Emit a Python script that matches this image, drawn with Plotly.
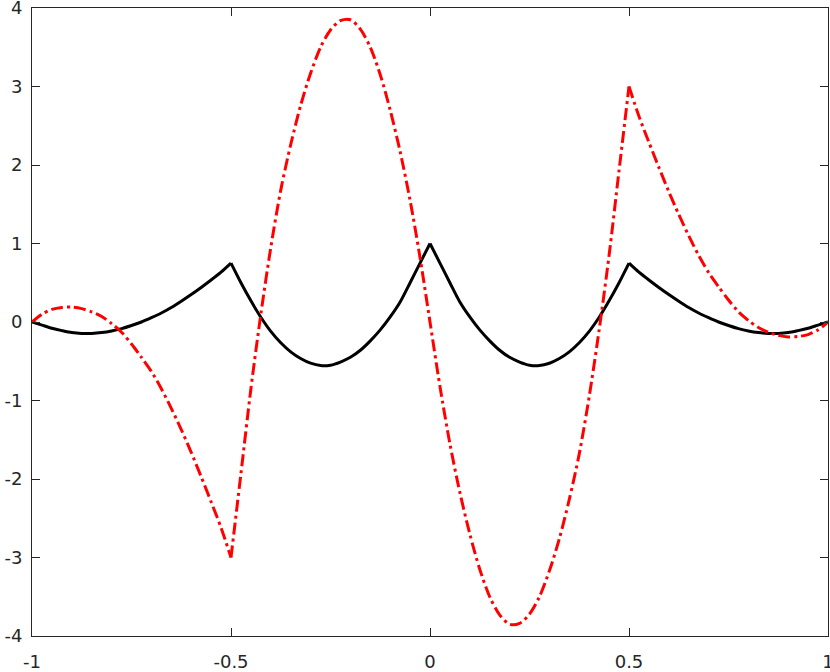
import plotly.graph_objects as go

# sample positions along x
x = [-1.0, -0.975, -0.95, -0.925, -0.9, -0.875, -0.85, -0.825, -0.8, -0.775,
     -0.75, -0.725, -0.7, -0.675, -0.65, -0.625, -0.6, -0.575, -0.55, -0.525,
     -0.5, -0.475, -0.45, -0.425, -0.4, -0.375, -0.35, -0.325, -0.3, -0.275,
     -0.25, -0.225, -0.2, -0.175, -0.15, -0.125, -0.1, -0.075, -0.05, -0.025,
     0.0, 0.025, 0.05, 0.075, 0.1, 0.125, 0.15, 0.175, 0.2, 0.225,
     0.25, 0.275, 0.3, 0.325, 0.35, 0.375, 0.4, 0.425, 0.45, 0.475,
     0.5, 0.525, 0.55, 0.575, 0.6, 0.625, 0.65, 0.675, 0.7, 0.725,
     0.75, 0.775, 0.8, 0.825, 0.85, 0.875, 0.9, 0.925, 0.95, 0.975, 1.0]

# solid black curve
black = [0.0, -0.04, -0.08, -0.11, -0.135, -0.145, -0.145, -0.135, -0.115, -0.085,
         -0.045, 0.0, 0.055, 0.115, 0.185, 0.265, 0.35, 0.44, 0.535, 0.635,
         0.75, 0.50, 0.27, 0.06, -0.12, -0.265, -0.38, -0.465, -0.525, -0.555,
         -0.55, -0.51, -0.45, -0.36, -0.24, -0.10, 0.065, 0.255, 0.50, 0.75,
         1.0, 0.75, 0.50, 0.255, 0.065, -0.10, -0.24, -0.36, -0.45, -0.51,
         -0.55, -0.555, -0.525, -0.465, -0.38, -0.265, -0.12, 0.06, 0.27, 0.50,
         0.75, 0.635, 0.535, 0.44, 0.35, 0.265, 0.185, 0.115, 0.055, 0.0,
         -0.045, -0.085, -0.115, -0.135, -0.145, -0.145, -0.135, -0.11, -0.08, -0.04, 0.0]

# red dash-dot curve
red = [0.0, 0.10, 0.16, 0.185, 0.19, 0.17, 0.13, 0.07, -0.02, -0.13,
       -0.28, -0.45, -0.63, -0.85, -1.10, -1.37, -1.66, -1.97, -2.29, -2.62,
       -3.0, -1.93, -0.85, 0.10, 0.95, 1.68, 2.26, 2.76, 3.17, 3.50,
       3.72, 3.84, 3.85, 3.73, 3.50, 3.15, 2.70, 2.17, 1.55, 0.82,
       0.0, -0.82, -1.55, -2.17, -2.70, -3.15, -3.50, -3.73, -3.85, -3.84,
       -3.72, -3.50, -3.17, -2.76, -2.26, -1.68, -0.95, -0.10, 0.85, 1.93,
       3.0, 2.62, 2.29, 1.97, 1.66, 1.37, 1.10, 0.85, 0.63, 0.45,
       0.28, 0.13, 0.02, -0.07, -0.13, -0.17, -0.19, -0.185, -0.16, -0.10, 0.0]

# indices of the corners (kinks) in each curve
black_kinks = [0, 20, 40, 60, 80]
red_kinks = [0, 20, 60, 80]

xticks = [-1, -0.5, 0, 0.5, 1]
xlabels = ["-1", "-0.5", "0", "0.5", "1"]
yticks = [-4, -3, -2, -1, 0, 1, 2, 3, 4]
ylabels = ["-4", "-3", "-2", "-1", "0", "1", "2", "3", "4"]


def add_curve(fig, ys, kinks, line):
    # smooth pieces between the corners, so the corners stay sharp
    for a, b in zip(kinks[:-1], kinks[1:]):
        fig.add_trace(go.Scatter(x=x[a:b + 1], y=ys[a:b + 1], mode="lines",
                                 line=dict(shape="spline", smoothing=0.8, **line),
                                 hoverinfo="skip"))


fig = go.Figure()
add_curve(fig, black, black_kinks, dict(color="black", width=3))
add_curve(fig, red, red_kinks, dict(color="#ff0000", width=3, dash="12px,4px,3px,4px"))

axis_style = dict(showline=True, linecolor="#262626", linewidth=1, mirror="ticks",
                  ticks="inside", ticklen=8, tickcolor="#262626", showgrid=False,
                  zeroline=False, automargin=False, ticklabeloverflow="allow",
                  tickfont=dict(size=18, color="#262626"))

fig.update_xaxes(range=[-1, 1], tickvals=xticks, ticktext=xlabels,
                 ticklabelstandoff=9, **axis_style)
fig.update_yaxes(range=[-4, 4], tickvals=yticks, ticktext=ylabels,
                 ticklabelstandoff=5, **axis_style)

fig.update_layout(
    width=830, height=672,
    margin=dict(l=32, r=2, t=8, b=36),
    plot_bgcolor="white", paper_bgcolor="white",
    showlegend=False,
    font=dict(family="DejaVu Sans, Arial, sans-serif"),
)

# page has a default 8px body margin; drop it so the figure sits at the corner
fig.write_html("out.html", config={"displayModeBar": False},
               post_script="document.body.style.margin='0';")
